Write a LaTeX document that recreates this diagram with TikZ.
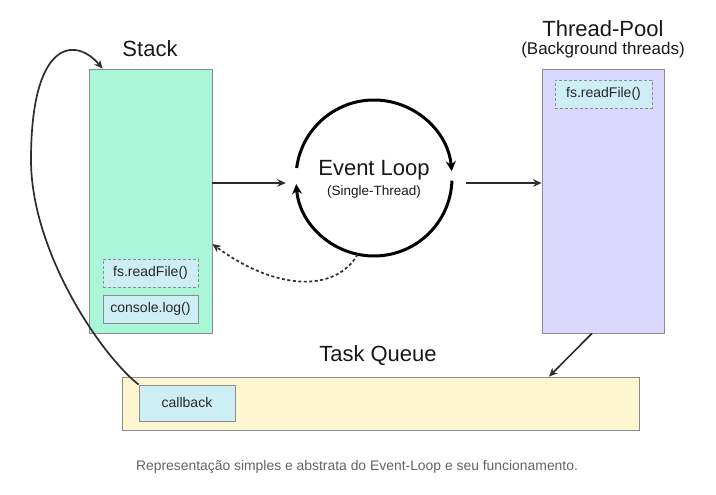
\documentclass[tikz,border=0pt]{standalone}
\usepackage{fontspec}
\setmainfont{Liberation Sans}
\usetikzlibrary{arrows.meta,calc}
\definecolor{stackfill}{RGB}{170,246,216}
\definecolor{poolfill}{RGB}{218,216,252}
\definecolor{itemfill}{RGB}{206,238,245}
\definecolor{queuefill}{RGB}{253,246,206}
\definecolor{boxline}{RGB}{140,140,140}
\definecolor{arrcol}{RGB}{45,45,45}
\definecolor{capcol}{RGB}{100,100,100}
\newcommand{\fsz}[1]{\fontsize{#1}{#1}\selectfont}
\tikzset{
  bigbox/.style={draw=boxline, line width=0.8pt, inner sep=0pt},
  itembox/.style={draw=boxline, line width=0.8pt, fill=itemfill, inner sep=0pt, minimum width=95pt, minimum height=28pt, font=\fsz{14}, text=black!85},
  dashbox/.style={itembox, dash pattern=on 3pt off 2pt},
  title/.style={font=\fsz{22}, text=black!90, inner sep=0pt},
  arr/.style={draw=arrcol, line width=1.7pt, -{Stealth[length=8.5pt,width=7.5pt]}},
  loopline/.style={draw=black, line width=3pt, -{Stealth[length=10pt,width=10pt]}},
}
\begin{document}
\begin{tikzpicture}[x=1pt,y=1pt]
\useasboundingbox[fill=white] (0,0) rectangle (716,495);
% boxes
\node[bigbox, fill=stackfill, minimum width=123pt, minimum height=264pt] (stack) at (150.5,294) {};
\node[bigbox, fill=poolfill, minimum width=122pt, minimum height=264pt] (pool) at (603,294) {};
\node[bigbox, fill=queuefill, minimum width=517pt, minimum height=53pt] (queue) at (380.5,91.5) {};
% titles
\node[title] (stacklbl) at (150,446) {Stack};
\node[title] (poollbl) at (603,466) {Thread-Pool};
\node[font=\fsz{17}, text=black!90, inner sep=0pt] (poolsub) at (603,445) {(Background threads)};
\node[title] (queuelbl) at (378,139) {Task Queue};
% items
\node[dashbox] (sfs) at (150.5,222) {fs.readFile()};
\node[itembox] (slog) at (150.5,186) {console.log()};
\node[dashbox, minimum width=97pt] (pfs) at (603.5,401) {fs.readFile()};
\node[itembox, minimum width=96pt, minimum height=36pt] (cb) at (187,92) {callback};
% event loop
\node[circle, minimum size=156pt, inner sep=0pt] (el) at (374,317) {};
\coordinate (elc) at (374,317);
\node[font=\fsz{22}, inner sep=0pt, text=black!90] (eltxt) at (374,324.5) {Event Loop};
\node[font=\fsz{13.5}, inner sep=0pt, text=black!90] (elsub) at (374,302.5) {(Single-Thread)};
\draw[loopline] (elc) ++(172.6:78) arc[start angle=172.6, end angle=5, radius=78];
\draw[loopline] (elc) ++(-2:78) arc[start angle=-2, end angle=-175.5, radius=78];
% connectors
\draw[arr, shorten >=10pt] (stack.east |- 0,312) -- (el.west |- 0,312);
\draw[arr, shorten <=14pt] (el.east |- 0,312) -- (pool.west |- 0,312);
\draw[arr] ([xshift=-11pt]pool.south) -- (queue.north -| 549,0);
\draw[arr, dash pattern=on 3pt off 2.5pt] (el.258) .. controls +(-23,-39) and +(62,-46) .. ([yshift=-43pt]stack.east);
\coordinate (stacktop) at ([xshift=14pt]stack.north west);
\coordinate (bend) at (31,335);
\draw[arr] (cb.north west) .. controls (99,142) and (31,245) .. (bend)
  .. controls (31,455) and (75,459) .. (stacktop);
% caption
\node[font=\fsz{13.9}, text=capcol, inner sep=0pt] (caption) at (357,28) {Representação simples e abstrata do Event-Loop e seu funcionamento.};
\end{tikzpicture}
\end{document}
